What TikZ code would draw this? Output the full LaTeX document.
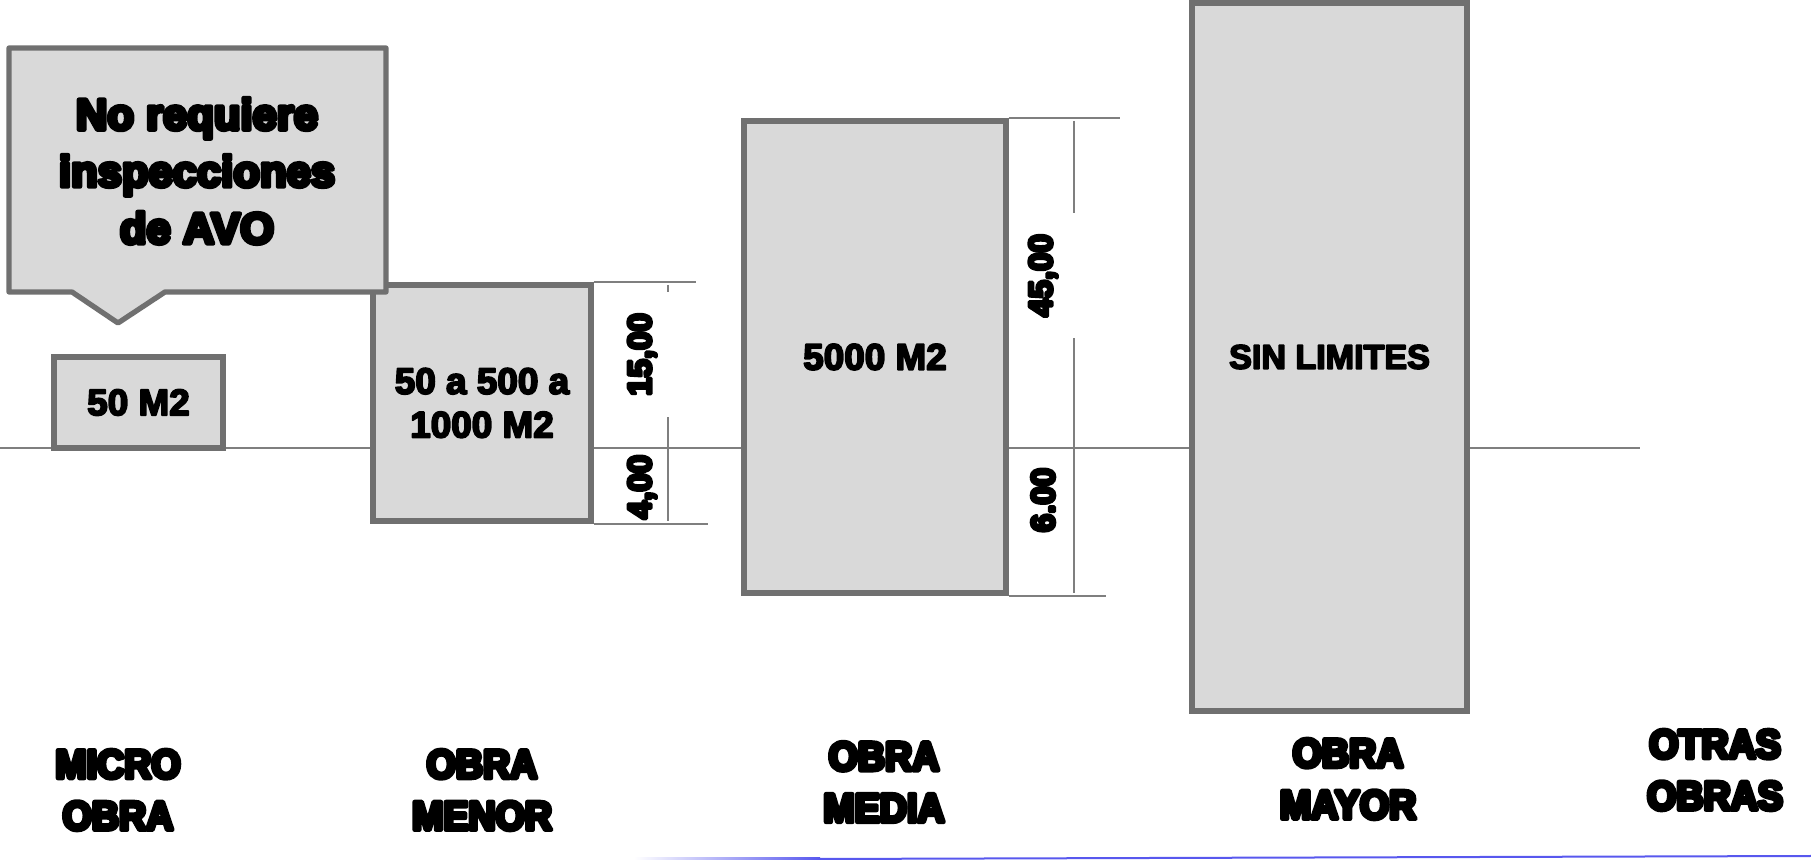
\documentclass[tikz,border=0pt]{standalone}
\usepackage{fontspec}
\setmainfont{Liberation Sans}
\newfontfamily\boxfont[FakeBold=5]{Liberation Sans Bold}
\newfontfamily\heavyfont[FakeBold=10]{Liberation Sans Bold}
\newfontfamily\labelfont[FakeBold=11,FakeStretch=0.93]{Liberation Sans Bold}
\newcommand\roundjoin{\special{pdf:literal direct 1 j}}
\definecolor{boxgray}{RGB}{217,217,217}
\definecolor{edgegray}{RGB}{112,112,112}
\definecolor{linegray}{RGB}{127,127,127}
\definecolor{bandblue}{RGB}{88,88,238}
\usetikzlibrary{positioning,calc}

\begin{document}
\begin{tikzpicture}[
  areabox/.style={draw=edgegray, line width=1.5pt, fill=boxgray, inner sep=0pt, align=center,
    font=\roundjoin\boxfont\fontsize{10.5}{12.4}\selectfont},
  dimline/.style={linegray, line width=0.6pt},
  dimtext/.style={font=\roundjoin\heavyfont\fontsize{9.4}{10}\selectfont, rotate=90, inner sep=0pt},
  typelabel/.style={font=\roundjoin\labelfont\fontsize{11.5}{14.7}\selectfont, align=center}
]
\useasboundingbox (0,0) rectangle (18.11,8.61);

% ground line
\coordinate (g0) at (0,4.13);
\coordinate (g1) at (16.40,4.13);
\draw[dimline] (g0) -- (g1);

% area boxes
\node[areabox, minimum width=1.69cm, minimum height=0.91cm] (micro) at (1.385,4.585) {50 M2};
\node[areabox, minimum width=2.18cm, minimum height=2.36cm] (menor) at (4.82,4.58) {50 a 500 a\\1000 M2};
\node[areabox, minimum width=2.62cm, minimum height=4.72cm] (media) at (8.75,5.04) {5000 M2};
\node[areabox, minimum width=2.75cm, minimum height=7.08cm, font=\roundjoin\boxfont\fontsize{9.7}{11}\selectfont] (mayor) at (13.295,5.04) {SIN LIMITES};

% callout
\draw[draw=edgegray, line width=1.5pt, fill=boxgray, line join=round]
  (0.09,8.13) -- (3.86,8.13) -- (3.86,5.69) -- (1.65,5.69) -- (1.18,5.38) -- (0.72,5.69) -- (0.09,5.69) -- cycle;
\node[font=\roundjoin\heavyfont\fontsize{12.4}{16.2}\selectfont, align=center] (aviso) at (1.97,6.90) {No requiere\\inspecciones\\de AVO};

% dimensions, obra menor
\draw[dimline] (menor.north east) -- ++(1.02,0) coordinate (m1);
\draw[dimline] (menor.south east) -- ++(1.14,0) coordinate (m2);
\draw[dimline] (6.68,5.76) -- (6.68,3.40);
\node[dimtext, fill=white, minimum width=1.25cm, minimum height=0.62cm] (c15) at (6.42,5.065) {15,00};
\node[dimtext] (c4) at (6.42,3.74) {4,00};

% dimensions, obra media
\draw[dimline] (media.north east) -- ++(1.11,0) coordinate (d1);
\draw[dimline] (media.south east) -- ++(0.97,0) coordinate (d2);
\draw[dimline] (10.74,7.40) -- (10.74,2.68);
\node[dimtext, fill=white, minimum width=1.25cm, minimum height=0.64cm] (c45) at (10.43,5.855) {45,00};
\node[dimtext] (c6) at (10.43,3.61) {6.00};

% type labels
\node[typelabel] (tmicro) at (1.18,0.71) {MICRO\\OBRA};
\node[typelabel] (tmenor) at (4.82,0.71) {OBRA\\MENOR};
\node[typelabel] (tmedia) at (8.84,0.79) {OBRA\\MEDIA};
\node[typelabel] (tmayor) at (13.48,0.82) {OBRA\\MAYOR};
\node[typelabel] (totras) at (17.15,0.91) {OTRAS\\OBRAS};

% blue rule at the foot
\shade[left color=white, right color=bandblue] (6.34,0.01) rectangle (8.2,0.03);
\fill[bandblue] (8.2,0.01) -- (18.11,0.04) -- (18.11,0.06) -- (8.2,0.03) -- cycle;
\end{tikzpicture}
\end{document}
